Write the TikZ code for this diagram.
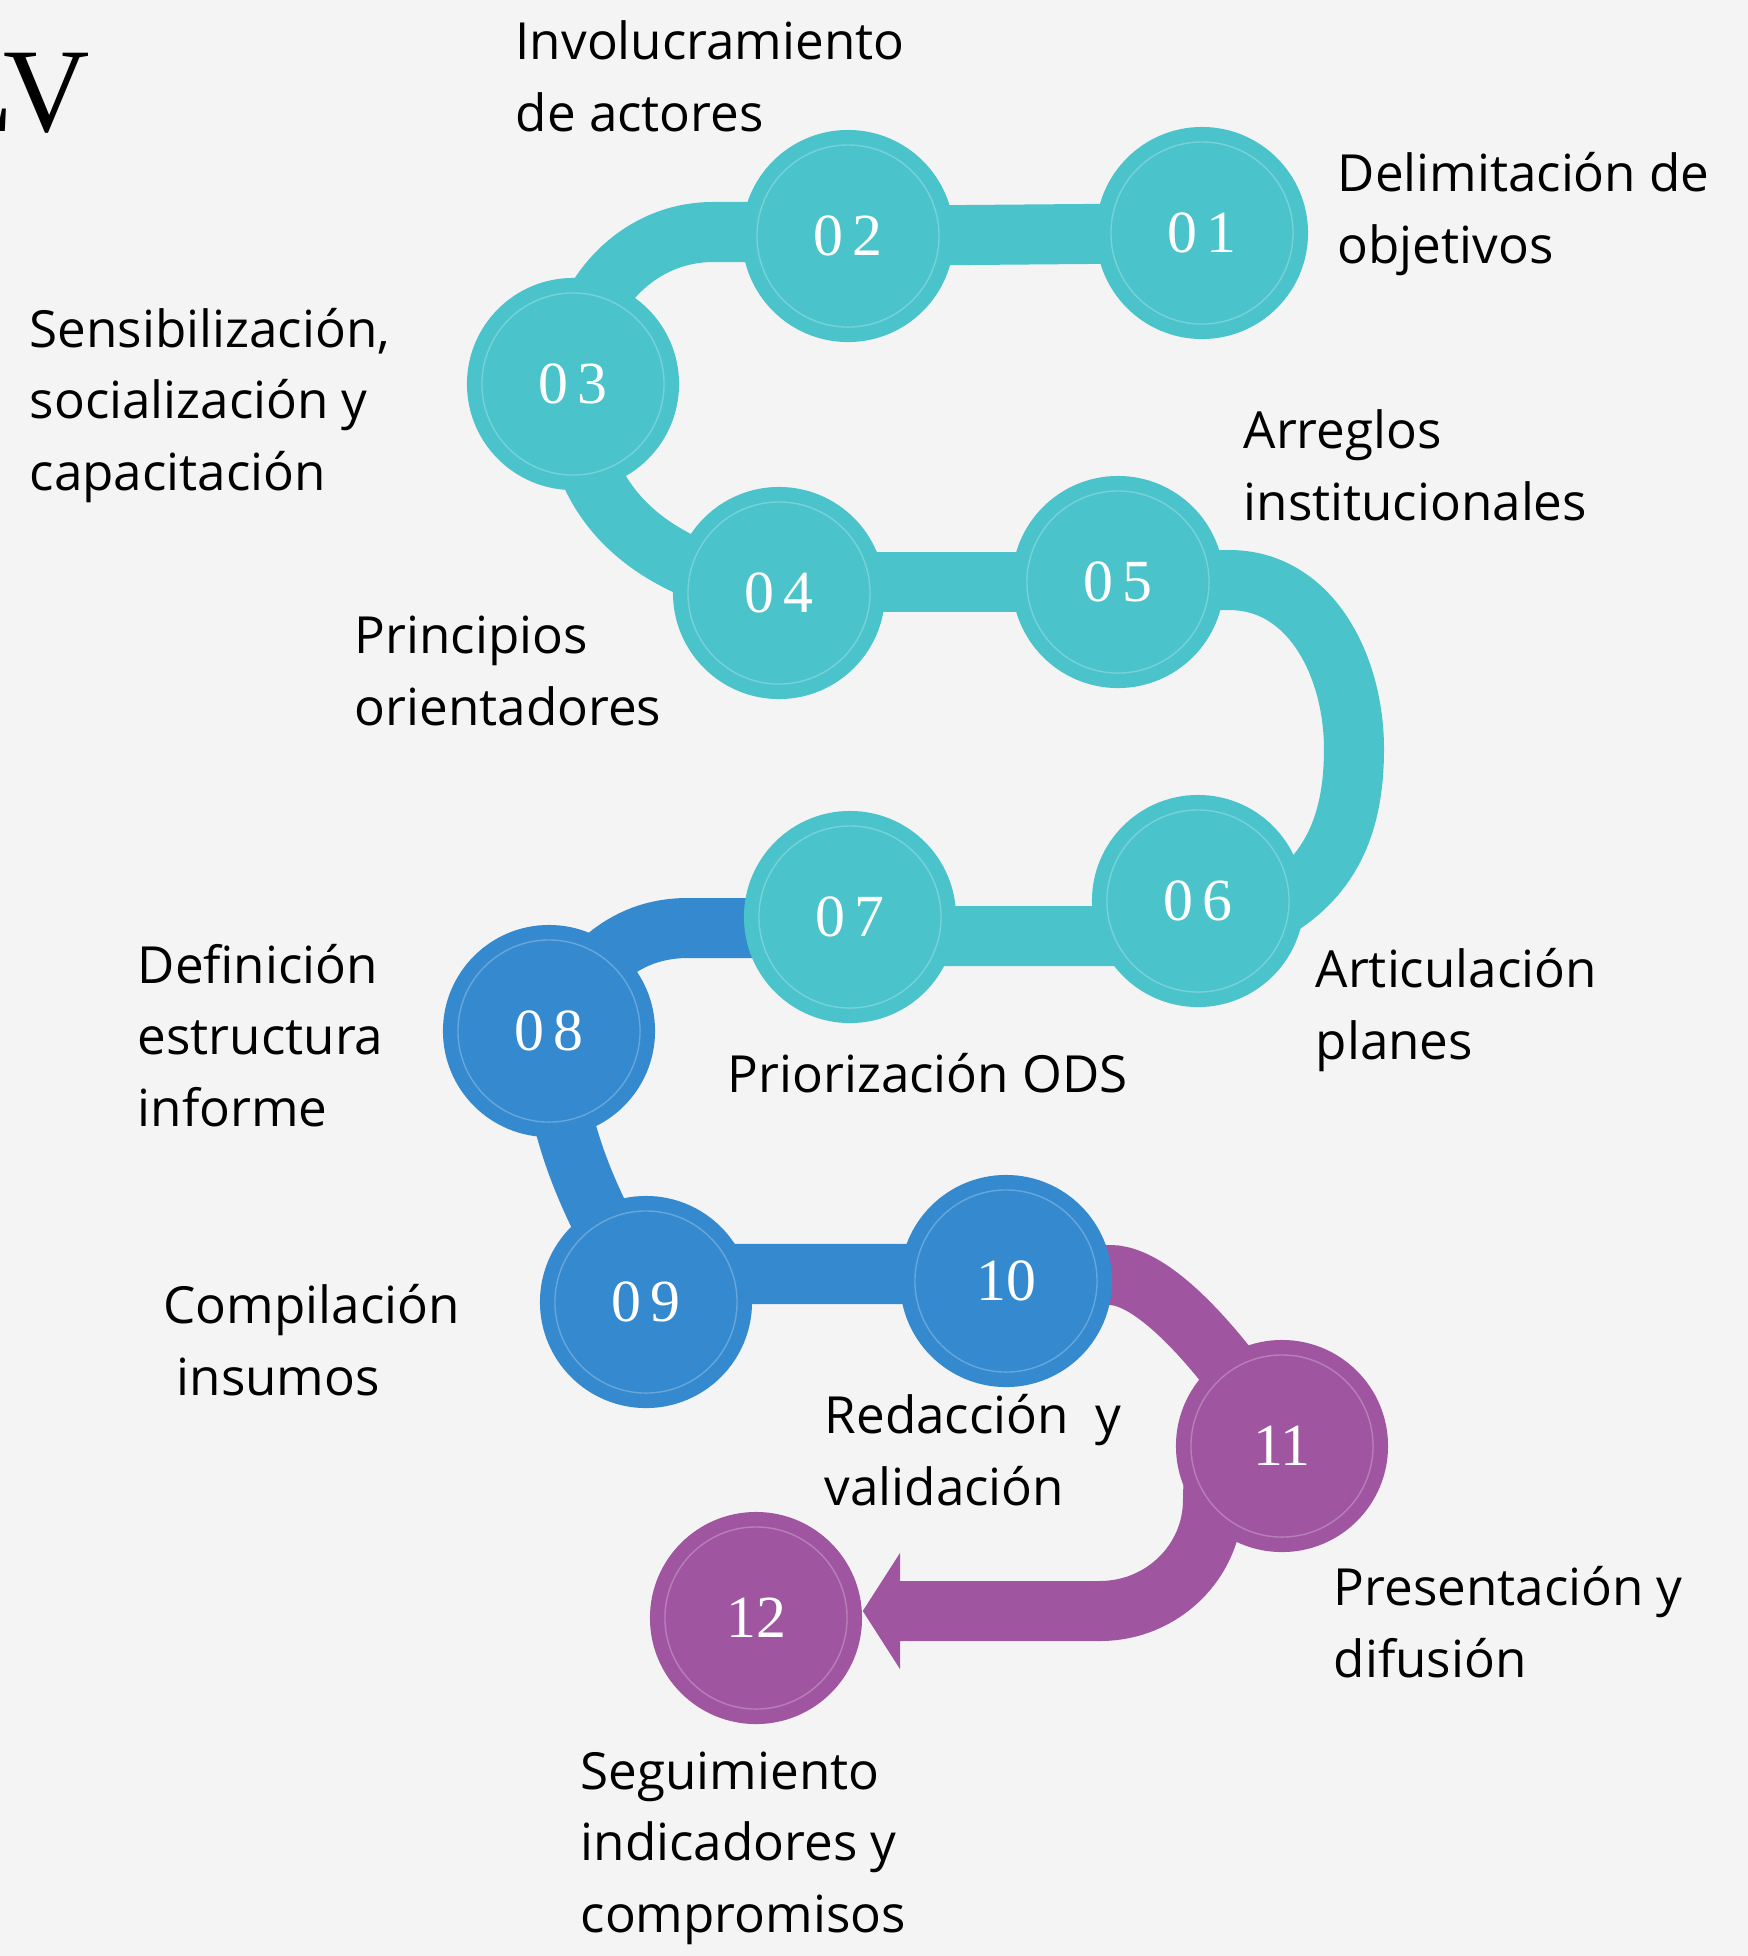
\documentclass[tikz,border=0pt]{standalone}
\usepackage{fontspec}
\setmainfont{Open Sans}
\newfontfamily\numfont{Liberation Serif}
\usetikzlibrary{positioning}
\definecolor{colorFondo}{HTML}{F4F4F4}
\definecolor{pasoTeal}{HTML}{4AC3CB}
\definecolor{pasoAzul}{HTML}{3489CF}
\definecolor{pasoMorado}{HTML}{A055A0}
\pgfdeclarelayer{capafondo}
\pgfdeclarelayer{bandas}
\pgfsetlayers{capafondo,bandas,main}
\tikzset{
    paso/.style={circle, minimum size=2.12cm, inner sep=0pt, text=white, font=\numfont\fontsize{17}{17}\selectfont}, % the numbered steps
    banda/.style={line width=0.6cm, line cap=butt}, % thick band between two steps
    anillo/.style={draw=white, draw opacity=0.25, line width=0.4pt},
    etiqueta/.style={anchor=base west, align=left, inner sep=0pt, font=\fontsize{14.55}{20.2}\selectfont} % placed at the baseline of the last line
}
\begin{document}
\begin{tikzpicture}[x=0.01cm, y=0.01cm]
    \useasboundingbox (0,0) rectangle (1748,-1956);
    \begin{pgfonlayer}{capafondo}
        \fill[colorFondo] (0,0) rectangle (1748,-1956);
    \end{pgfonlayer}

    % steps
    \node[paso, fill=pasoTeal] (p01) at (1202,-233) {0\,1};
    \node[paso, fill=pasoTeal] (p02) at (848,-236) {0\,2};
    \node[paso, fill=pasoTeal] (p03) at (573,-384) {0\,3};
    \node[paso, fill=pasoTeal] (p04) at (779,-593) {0\,4};
    \node[paso, fill=pasoTeal] (p05) at (1118,-582) {0\,5};
    \node[paso, fill=pasoTeal] (p06) at (1198,-901) {0\,6};
    \node[paso, fill=pasoTeal] (p07) at (850,-917) {0\,7};
    \node[paso, fill=pasoAzul] (p08) at (549,-1031) {0\,8};
    \node[paso, fill=pasoAzul] (p09) at (646,-1302) {0\,9};
    \node[paso, fill=pasoAzul] (p10) at (1006,-1281) {10};
    \node[paso, fill=pasoMorado] (p11) at (1282,-1446) {11};
    \node[paso, fill=pasoMorado] (p12) at (756,-1618) {12};
    \foreach \p in {p01,p02,p03,p04,p05,p06,p07,p08,p09,p10,p11,p12}
        \draw[anillo] (\p.center) circle[radius=0.91cm];

    % bands between the steps
    \coordinate (k23) at (713,-232);
    \coordinate (k56a) at (1229,-580);
    \coordinate (k56b) at (1354,-749);
    \coordinate (k56c) at (1272,-911);
    \coordinate (k78) at (688,-928);
    \coordinate (k1011) at (1110,-1275);
    \coordinate (k11a) at (1213,-1500);
    \coordinate (k11b) at (1100,-1611);
    \coordinate (k12) at (900,-1611);
    \begin{pgfonlayer}{bandas}
        \draw[banda, pasoTeal] (p01.center) -- (p02.center);
        \draw[banda, pasoTeal] (p02.center |- k23) -- (k23) to[out=180, in=90] (p03.center);
        \draw[banda, pasoTeal] (p03.center) to[out=-90, in=170, looseness=1.1] (p04.center);
        \draw[banda, pasoTeal] (p05.center -| p04.center) -- (p05.center);
        \draw[banda, pasoTeal] (p05.center) -- (k56a) to[out=0, in=90] (k56b) to[out=-90, in=30] (k56c) -- (p06.center);
        \draw[banda, pasoTeal] ([yshift=-0.35cm]p06.center) -- ([yshift=-0.19cm]p07.center);
        \draw[banda, pasoAzul] ([yshift=-0.11cm]p07.center) -- (k78) to[out=180, in=60] (p08.center);
        \draw[banda, pasoAzul] (p08.center) to[out=-85, in=120] (p09.center);
        \draw[banda, pasoAzul] ([yshift=0.28cm]p09.center) -- ([yshift=0.07cm]p10.center);
        \draw[banda, pasoMorado] (k1011 -| p10.center) -- (k1011) to[out=0, in=120, looseness=0.6] (p11.center);
        \draw[banda, pasoMorado] (p11.center) -- (k11a) to[out=-90, in=0] (k11b) -- (k12);
        \fill[pasoMorado] ([yshift=0.58cm]k12) -- (k12 -| p12.east) -- ([yshift=-0.58cm]k12) -- cycle;
    \end{pgfonlayer}

    % labels
    \node[etiqueta] (t01) at (1337,-263) {Delimitación de\\objetivos};
    \node[etiqueta] (t02) at (515,-131) {Involucramiento\\de actores};
    \node[etiqueta] (t03) at (29,-490) {Sensibilización,\\socialización y\\capacitación};
    \node[etiqueta] (t04) at (354,-725) {Principios\\orientadores};
    \node[etiqueta] (t05) at (1243,-520) {Arreglos\\institucionales};
    \node[etiqueta] (t06) at (1315,-1059) {Articulación\\planes};
    \node[etiqueta] (t07) at (727,-1092) {Priorización ODS};
    \node[etiqueta] (t08) at (137,-1126) {Definición\\estructura\\informe};
    \node[etiqueta] (t09) at (163,-1395) {Compilación\\\hspace{0.13cm}insumos};
    \node[etiqueta] (t10) at (824,-1505) {Redacción\ \ y\\validación};
    \node[etiqueta] (t11) at (1333,-1677) {Presentación y\\difusión};
    \node[etiqueta] (t12) at (580,-1932) {Seguimiento\\indicadores y\\compromisos};
    \node[font=\numfont\fontsize{34}{34}\selectfont, anchor=base east, inner sep=0pt] (lv) at (90,-131) {LV};
\end{tikzpicture}
\end{document}
